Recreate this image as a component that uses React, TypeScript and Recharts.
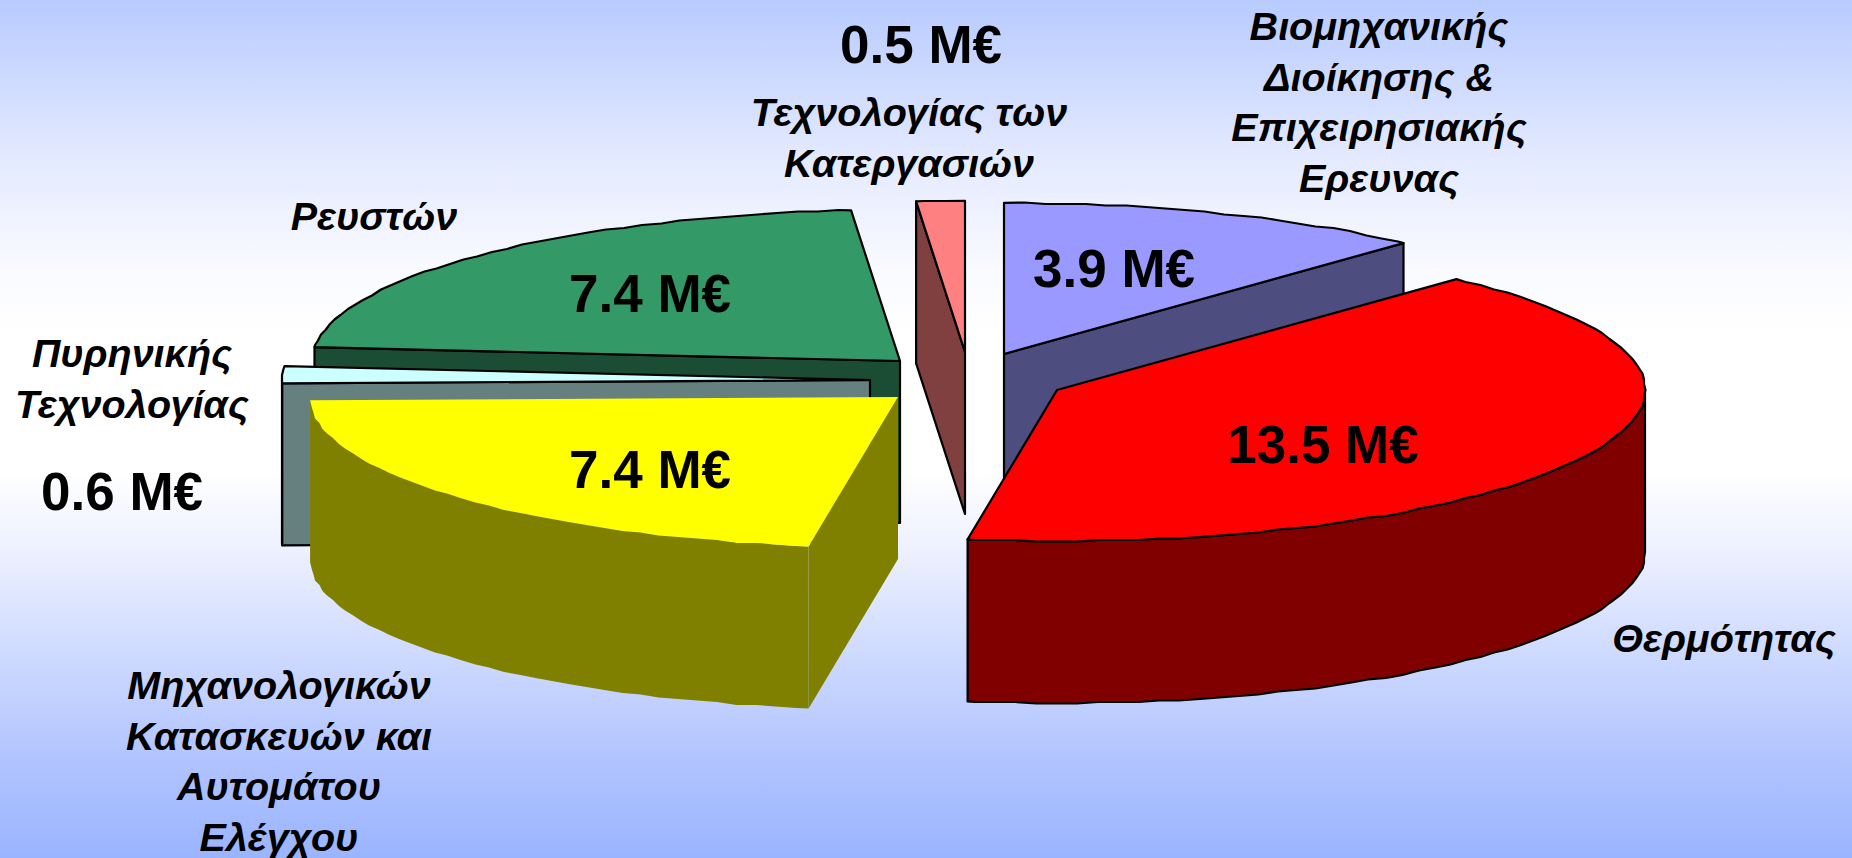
import React from 'react';
import { PieChart, Pie } from 'recharts';

const categories = [
  ['Βιομηχανικής', 'Διοίκησης &', 'Επιχειρησιακής', 'Ερευνας'],
  ['Τεχνολογίας των', 'Κατεργασιών'],
  ['Ρευστών'],
  ['Πυρηνικής', 'Τεχνολογίας'],
  ['Μηχανολογικών', 'Κατασκευών και', 'Αυτομάτου', 'Ελέγχου'],
  ['Θερμότητας'],
];
const values = [3.9, 0.5, 7.4, 0.6, 7.4, 13.5];

const topColors = ['#9999FF', '#FF8080', '#339966', '#CCFFFF', '#FFFF00', '#FF0000'];
const sideColors = ['#4D4D80', '#804040', '#1A4D33', '#668080', '#808000', '#800000'];
const strokes = ['#000', '#000', '#000', '#000', 'none', '#000'];

// slice explosion, in px from the pie centre
const CX = 1000;
const CY = 380;
const offsets = [[4, -26], [-35, -28], [-100, -19], [-130, 0], [-102, 17], [57, 10]];

const RX = 588;
const SQUASH = 0.257;
const DEPTH = 162;

const valuePos = [[1114, 268], [921, 44], [650, 293], [122, 491], [650, 469], [1323, 444]];
const namePos = [[1379, 26], [909, 112], [374, 216], [132, 353], [279, 685], [1724, 638]];
const LINE_H = 50.5;

const pieData = values.map((value, i) => ({ name: categories[i].join(' '), value, idx: i, fill: topColors[i] }));

const FONT = 'Liberation Sans, Arial, sans-serif';

// the original outline is slightly stepped, so inner arc points sit on a small grid
const GRID = 1.5;
const STEP = 2;
const snapGrid = (v: number) => Math.round(v / GRID) * GRID;
// blue/pink boundary sits straight up in the picture
const snapAngle = (a: number) => (Math.abs(a - 90) < 1 ? 90 : a);

function arcPoints(cx: number, cy: number, rx: number, ry: number, a0: number, a1: number) {
  const at = (a: number): [number, number] => {
    const t = (a * Math.PI) / 180;
    return [cx + rx * Math.cos(t), cy - ry * Math.sin(t)];
  };
  const pts: [number, number][] = [at(a0)];
  // whole multiples of STEP, so the top face and the rim share their points
  for (let a = Math.floor(a0 / STEP + 1) * STEP; a < a1; a += STEP) {
    const p = at(a);
    pts.push([snapGrid(p[0]), snapGrid(p[1])]);
  }
  if (a1 > a0) pts.push(at(a1));
  return pts;
}

const toPath = (pts: [number, number][]) =>
  'M' + pts.map((p) => `${p[0].toFixed(1)},${p[1].toFixed(1)}`).join('L') + 'Z';

function Slice3D(props: any) {
  const { cx, cy, outerRadius, fill, payload } = props;
  const startAngle = snapAngle(props.startAngle);
  const endAngle = snapAngle(props.endAngle);
  const i = payload.idx;
  const x = cx + offsets[i][0];
  const y = cy + offsets[i][1];
  const rx = outerRadius;
  const ry = rx * SQUASH;
  const side = sideColors[i];
  const stroke = strokes[i];
  const walls: [number, number][][] = [];

  const down = (pts: [number, number][]) => pts.map((p) => [p[0], p[1] + DEPTH] as [number, number]).reverse();
  const edge = (a: number) => arcPoints(x, y, rx, ry, a, a)[0];

  // radial walls that face the viewer
  if (Math.cos((startAngle * Math.PI) / 180) > 0.05) {
    const line: [number, number][] = [[x, y], edge(startAngle)];
    walls.push([...line, ...down(line)]);
  }
  if (Math.cos((endAngle * Math.PI) / 180) < -0.05) {
    const line: [number, number][] = [[x, y], edge(endAngle)];
    walls.push([...line, ...down(line)]);
  }
  // outer rim, only the lower half of the ellipse is seen
  for (const [lo, hi] of [[180, 360], [540, 720]]) {
    const a = Math.max(startAngle, lo);
    const b = Math.min(endAngle, hi);
    if (b > a) {
      const rim = arcPoints(x, y, rx, ry, a, b);
      walls.push([...rim, ...down(rim)]);
    }
  }

  const top: [number, number][] = [[x, y], ...arcPoints(x, y, rx, ry, startAngle, endAngle)];
  return (
    <g>
      {walls.map((w, k) => (
        <path key={k} d={toPath(w)} fill={side} stroke={stroke} strokeWidth={2.2} strokeLinejoin="round" />
      ))}
      <path d={toPath(top)} fill={fill} stroke={stroke} strokeWidth={2.2} strokeLinejoin="round" />
    </g>
  );
}

function SliceLabel(props: any) {
  const i = props.index;
  return (
    <g fontFamily={FONT} fontWeight="bold" fill="#000" textAnchor="middle">
      <text x={valuePos[i][0]} y={valuePos[i][1]} fontSize={53} dominantBaseline="central">
        {values[i]} M€
      </text>
      {categories[i].map((line, k) => (
        <text
          key={k}
          x={namePos[i][0]}
          y={namePos[i][1] + k * LINE_H}
          fontSize={39.5}
          fontStyle="italic"
          dominantBaseline="central"
        >
          {line}
        </text>
      ))}
    </g>
  );
}

export default function App() {
  return (
    <div
      style={{
        position: 'absolute',
        left: 0,
        top: 0,
        width: 1852,
        height: 858,
        overflow: 'hidden',
        background:
          'linear-gradient(180deg, #B8CBFF 0px, #E5EBFF 164px, #FAFBFF 273px, #FFFFFF 340px, #FFFFFF 470px, #EEF1FF 546px, #CDD9FF 656px, #B0C3FF 765px, #9AB4FF 858px)',
      }}
    >
      <PieChart width={1852} height={858} margin={{ top: 0, right: 0, bottom: 0, left: 0 }}>
        <Pie
          data={pieData}
          dataKey="value"
          nameKey="name"
          cx={CX}
          cy={CY}
          innerRadius={0}
          outerRadius={RX}
          startAngle={47.2}
          endAngle={407.2}
          stroke="none"
          shape={Slice3D}
          label={SliceLabel}
          labelLine={false}
          isAnimationActive={false}
        />
      </PieChart>
    </div>
  );
}
